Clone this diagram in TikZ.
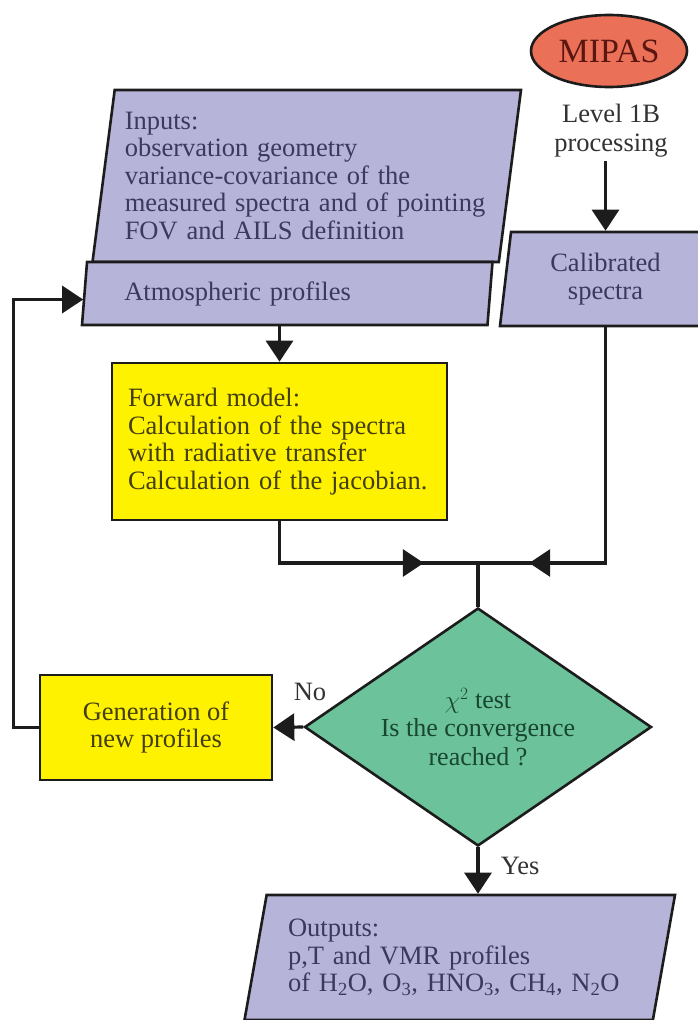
\documentclass[tikz,border=0pt]{standalone}
\usepackage{fontspec}
\setmainfont{Liberation Serif}
\usetikzlibrary{shapes.geometric, arrows.meta, decorations.markings}
\definecolor{boxlilac}{RGB}{183,180,218}
\definecolor{boxyellow}{RGB}{255,242,0}
\definecolor{testgreen}{RGB}{108,195,155}
\definecolor{mipasred}{RGB}{234,112,88}
\definecolor{mipastext}{RGB}{90,22,16}
\definecolor{lilactext}{RGB}{58,58,92}
\definecolor{yellowtext}{RGB}{66,62,16}
\definecolor{greentext}{RGB}{24,70,48}
\definecolor{outtext}{RGB}{50,50,50}
\definecolor{edgegray}{RGB}{28,28,28}

\begin{document}
\begin{tikzpicture}[x=1pt, y=-1pt, align=center,
  every node/.style={font=\fontsize{26.5}{27.5}\selectfont},
  databox/.style={trapezium, trapezium stretches body, draw=edgegray, line width=2.6pt,
    fill=boxlilac, text=lilactext, inner sep=3pt},
  procbox/.style={rectangle, draw=edgegray, line width=2.6pt, fill=boxyellow,
    text=yellowtext, inner sep=3pt},
  line/.style={color=edgegray, line width=3.2pt},
  arr/.style={line, -{Triangle[length=21pt, width=27pt]}},
  midarr/.style={line, postaction={decorate}, decoration={markings,
    mark=at position #1 with {\arrow{Triangle[length=21pt, width=27pt]}}}}]
\useasboundingbox (0,0) rectangle (698,1020);

\path (609,51) node[ellipse, draw=edgegray, line width=2.6pt, fill=mipasred, text=mipastext,
        minimum width=156pt, minimum height=72pt, inner sep=0pt,
        font=\fontsize{34}{36}\selectfont] (mipas) {MIPAS}
      (611,131) node[text=outtext, inner sep=3pt, font=\fontsize{26.5}{29}\selectfont] (lvl) {Level 1B\\processing}

      (306.75,176) node[databox, trapezium left angle=80.58, trapezium right angle=99.42,
        minimum width=428.5pt, minimum height=172pt, text width=364pt, align=left] (inputs)
        {Inputs:\\observation geometry\\variance-covariance of the\\measured spectra and of pointing\\FOV and AILS definition}
      (287.25,293.5) node[databox, trapezium left angle=80.58, trapezium right angle=99.42,
        minimum width=410.5pt, minimum height=63pt, text width=326pt, align=left] (atmos)
        {Atmospheric profiles}
      (605.5,279) node[databox, trapezium left angle=79.16, trapezium right angle=100.84,
        minimum width=211pt, minimum height=94pt] (calib) {Calibrated\\spectra}

      (279.5,441.5) node[procbox, minimum width=335pt, minimum height=157pt, text width=303pt, align=left] (fwd)
        {Forward model:\\Calculation of the spectra\\with radiative transfer\\Calculation of the jacobian.}
      (478,563) coordinate (jn)

      (478,727) node[diamond, aspect=1.46, draw=edgegray, line width=2.6pt, fill=testgreen, text=greentext,
        minimum width=347pt, minimum height=238pt, inner sep=0pt,
        font=\fontsize{26}{28.5}\selectfont] (test) {$\chi^2$ test\\Is the convergence\\reached ?}
      (156,727.5) node[procbox, minimum width=232pt, minimum height=105pt] (gen)
        {Generation of\\new profiles}
      (310,692) node[text=outtext] (no) {No}

      (459.75,957.5) node[databox, trapezium left angle=75, trapezium right angle=105,
        minimum width=430.5pt, minimum height=125pt, text width=343.5pt, align=left] (out)
        {Outputs:\\p,T and VMR profiles\\of H\textsubscript{2}O, O\textsubscript{3}, HNO\textsubscript{3}, CH\textsubscript{4}, N\textsubscript{2}O};

\draw[arr] (calib.south |- lvl.south) -- (calib.north);
\draw[arr] (fwd.north |- atmos.south) -- (fwd.north);
\draw[midarr=186pt] (fwd.south) |- (jn);
\draw[midarr=312pt] (calib.south) |- (jn);
\draw[line] (jn) -- (test.north);
\draw[arr] (test.west) -- (gen.east);
\draw[arr] (gen.west) -- ++(-25,0) |- ([yshift=-6pt]atmos.left side);
\draw[arr] (test.south) -- node[right=18pt, pos=0.4, text=outtext] (yes) {Yes} (test.south |- out.north);

\end{tikzpicture}
\end{document}
